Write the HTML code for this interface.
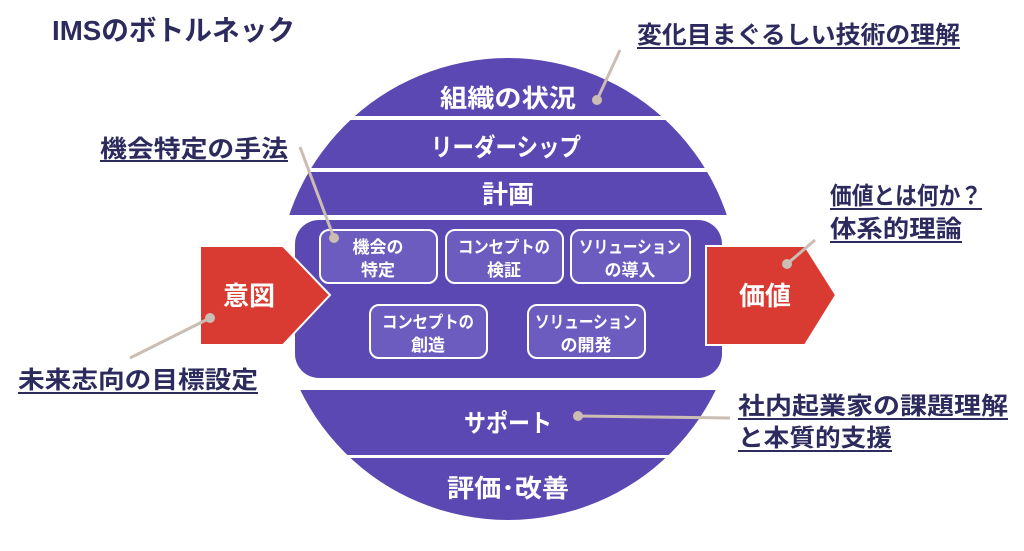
<!DOCTYPE html>
<html><head><meta charset="utf-8"><style>
html,body{margin:0;padding:0;background:#fff;}
svg{display:block;}
text{font-family:"Liberation Sans","Noto Sans CJK JP",sans-serif;font-weight:bold;}
</style></head><body>
<svg width="1024" height="551" viewBox="0 0 1024 551" xmlns="http://www.w3.org/2000/svg">
<defs><clipPath id="c"><circle cx="508" cy="289" r="231"/></clipPath></defs>
<g clip-path="url(#c)" fill="#5c48b2">
<rect x="0" y="50" width="1024" height="66"/>
<rect x="0" y="120" width="1024" height="48"/>
<rect x="0" y="172" width="1024" height="43"/>
<rect x="0" y="390" width="1024" height="65"/>
<rect x="0" y="458" width="1024" height="80"/>
</g>
<rect x="295" y="220" width="427" height="158" rx="24" fill="#5c48b2"/>
<g fill="#fff" font-size="25" text-anchor="middle">
<text x="508" y="107" textLength="136" lengthAdjust="spacingAndGlyphs">組織の状況</text>
<text x="506" y="156" textLength="150" lengthAdjust="spacingAndGlyphs">リーダーシップ</text>
<text x="508" y="203" textLength="52" lengthAdjust="spacingAndGlyphs">計画</text>
<text x="508" y="432" textLength="88" lengthAdjust="spacingAndGlyphs">サポート</text>
<text x="508" y="497" textLength="122" lengthAdjust="spacingAndGlyphs">評価･改善</text>
</g>
<g fill="#6d5cc0" stroke="#fff" stroke-width="2">
<rect x="320" y="230" width="117" height="53" rx="9"/>
<rect x="446" y="230" width="117" height="53" rx="9"/>
<rect x="571" y="230" width="119" height="53" rx="9"/>
<rect x="370" y="305" width="117" height="53" rx="9"/>
<rect x="528" y="305" width="117" height="53" rx="9"/>
</g>
<g fill="#fff" font-size="17" text-anchor="middle">
<text x="378" y="253">機会の</text><text x="378" y="276">特定</text>
<text x="504" y="253" textLength="92" lengthAdjust="spacingAndGlyphs">コンセプトの</text><text x="504" y="276">検証</text>
<text x="630" y="253" textLength="102" lengthAdjust="spacingAndGlyphs">ソリューション</text><text x="630" y="276">の導入</text>
<text x="428" y="328" textLength="92" lengthAdjust="spacingAndGlyphs">コンセプトの</text><text x="428" y="351">創造</text>
<text x="586" y="328" textLength="102" lengthAdjust="spacingAndGlyphs">ソリューション</text><text x="586" y="351">の開発</text>
</g>
<polygon points="200,246 283,246 330,295 283,345 200,345" fill="#d93a32" stroke="#fff" stroke-width="2"/>
<polygon points="706,246 805,246 836,295 805,345 706,345" fill="#d93a32" stroke="#fff" stroke-width="2"/>
<g fill="#fff" font-size="26" text-anchor="middle">
<text x="249" y="305">意図</text>
<text x="765" y="305">価値</text>
</g>
<g stroke="#cbbdb3" stroke-width="3" fill="none">
<line x1="620" y1="50" x2="597" y2="100"/>
<line x1="300" y1="147" x2="334" y2="238"/>
<line x1="815" y1="240" x2="787" y2="264"/>
<line x1="130" y1="358" x2="210" y2="318"/>
<line x1="730" y1="418" x2="578" y2="416"/>
</g>
<g fill="#cbbdb3">
<circle cx="597" cy="100" r="5"/><circle cx="334" cy="238" r="5"/>
<circle cx="787" cy="264" r="5"/><circle cx="210" cy="318" r="5"/>
<circle cx="578" cy="416" r="5"/>
</g>
<g fill="#2d2a5e">
<text x="52" y="40" font-size="28" textLength="243" lengthAdjust="spacingAndGlyphs">IMSのボトルネック</text>
<g font-size="24">
<text x="637" y="43" textLength="323" lengthAdjust="spacingAndGlyphs">変化目まぐるしい技術の理解</text>
<text x="100" y="157" textLength="188" lengthAdjust="spacingAndGlyphs">機会特定の手法</text>
<text x="830" y="204" textLength="152" lengthAdjust="spacingAndGlyphs">価値とは何か？</text>
<text x="830" y="237" textLength="132" lengthAdjust="spacingAndGlyphs">体系的理論</text>
<text x="18" y="388" textLength="240" lengthAdjust="spacingAndGlyphs">未来志向の目標設定</text>
<text x="738" y="414" textLength="270" lengthAdjust="spacingAndGlyphs">社内起業家の課題理解</text>
<text x="738" y="446" textLength="154" lengthAdjust="spacingAndGlyphs">と本質的支援</text>
</g>
</g>
<g stroke="#2d2a5e" stroke-width="2">
<line x1="637" y1="48" x2="960" y2="48"/>
<line x1="100" y1="161" x2="288" y2="161"/>
<line x1="830" y1="209" x2="982" y2="209"/>
<line x1="830" y1="242" x2="962" y2="242"/>
<line x1="18" y1="393" x2="258" y2="393"/>
<line x1="738" y1="419" x2="1008" y2="419"/>
<line x1="738" y1="451" x2="892" y2="451"/>
</g>
</svg>
</body></html>
